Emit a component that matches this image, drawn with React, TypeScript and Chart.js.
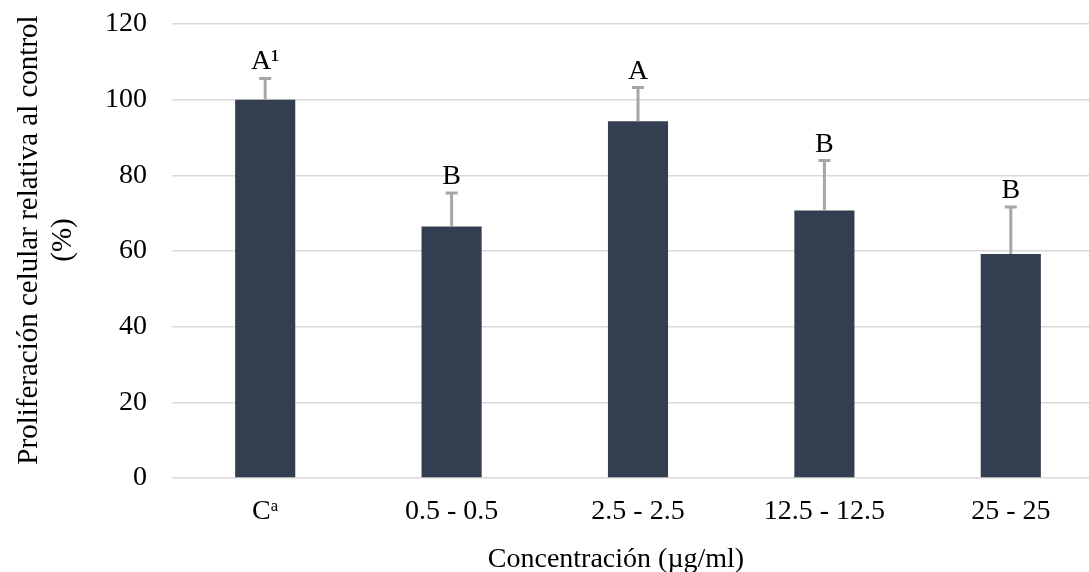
import React, { useEffect, useRef } from 'react';
import { Chart, registerables } from 'chart.js';

Chart.register(...registerables);

const categories = ['Cᵃ', '0.5 - 0.5', '2.5 - 2.5', '12.5 - 12.5', '25 - 25'];
const values = [100, 66.5, 94.3, 70.7, 59.2];
const errors = [5.6, 8.8, 8.9, 13.2, 12.4];
const letters = ['A¹', 'B', 'A', 'B', 'B'];
const yTitle = ['Proliferación celular relativa al control', '(%)'];
const xTitle = 'Concentración (µg/ml)';

const FAMILY = "'Liberation Serif', 'Times New Roman', serif";
const FONT = `28px ${FAMILY}`;

const overlay = {
  id: 'errLetters',
  afterDatasetsDraw(chart: any) {
    const ctx = chart.ctx;
    const meta = chart.getDatasetMeta(0);
    const y = chart.scales.y;
    ctx.save();
    meta.data.forEach((bar: any, i: number) => {
      const x = bar.x;
      const yTop = y.getPixelForValue(values[i] + errors[i]);
      const yBar = y.getPixelForValue(values[i]);
      ctx.strokeStyle = '#a6a6a6';
      ctx.lineWidth = 3;
      ctx.beginPath();
      ctx.moveTo(x, yBar);
      ctx.lineTo(x, yTop);
      ctx.moveTo(x - 6, yTop);
      ctx.lineTo(x + 6, yTop);
      ctx.stroke();
      ctx.fillStyle = '#000';
      ctx.font = FONT;
      ctx.textAlign = 'center';
      ctx.textBaseline = 'alphabetic';
      ctx.fillText(letters[i], x, yTop - 9);
    });
    // axis titles
    ctx.fillStyle = '#000';
    ctx.font = FONT;
    ctx.textAlign = 'center';
    ctx.textBaseline = 'alphabetic';
    ctx.fillText(xTitle, 616, 567);
    ctx.translate(0, 240);
    ctx.rotate(-Math.PI / 2);
    ctx.textBaseline = 'middle';
    ctx.font = `29px ${FAMILY}`;
    ctx.fillText(yTitle[0], 0, 29);
    ctx.fillText(yTitle[1], 0, 63);
    ctx.restore();
  },
};

export default function App() {
  const ref = useRef<HTMLCanvasElement>(null);
  useEffect(() => {
    if (!ref.current) return;
    Chart.defaults.font.family = FAMILY;
    const chart = new Chart(ref.current, {
      type: 'bar',
      data: {
        labels: categories,
        datasets: [
          {
            data: values,
            backgroundColor: '#333f50',
            borderWidth: 0,
            barPercentage: 60 / 186,
            categoryPercentage: 1,
          },
        ],
      },
      options: {
        animation: false,
        responsive: false,
        maintainAspectRatio: false,
        layout: { padding: { top: 24, left: 0, right: 0, bottom: 0 } },
        plugins: { legend: { display: false }, tooltip: { enabled: false } },
        scales: {
          x: {
            grid: { display: false },
            border: { display: false },
            ticks: { color: '#000', font: { size: 28, family: FAMILY }, padding: 9 },
            afterFit(scale: any) {
              scale.height = 94;
            },
          },
          y: {
            min: 0,
            max: 120,
            ticks: { stepSize: 20, color: '#000', font: { size: 28, family: FAMILY }, padding: 25 },
            grid: { color: '#d9d9d9', lineWidth: 1.5, drawTicks: false },
            border: { display: false },
            afterFit(scale: any) {
              scale.width = 172;
              scale.paddingTop = 0;
              scale.paddingBottom = 0;
            },
          },
        },
      },
      plugins: [overlay],
    });
    return () => chart.destroy();
  }, []);
  return (
    <div style={{ position: 'fixed', left: 0, top: 0, width: 1089, height: 572, overflow: 'hidden', background: '#fff' }}>
      <canvas ref={ref} width={1104} height={572} style={{ display: 'block', width: 1104, height: 572 }} />
    </div>
  );
}
